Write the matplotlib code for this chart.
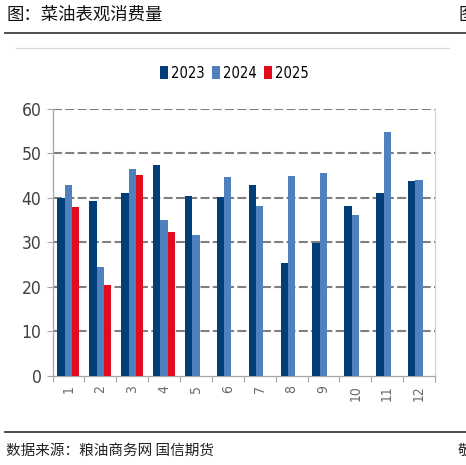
import matplotlib
matplotlib.use("Agg")
import matplotlib.pyplot as plt
from matplotlib.lines import Line2D
from matplotlib.patches import Patch
import numpy as np

months = ["1", "2", "3", "4", "5", "6", "7", "8", "9", "10", "11", "12"]
v2023 = [39.9, 39.2, 41.0, 47.4, 40.5, 40.3, 43.0, 25.3, 29.9, 38.2, 41.0, 43.7]
v2024 = [43.0, 24.4, 46.5, 35.1, 31.6, 44.8, 38.2, 45.0, 45.5, 36.2, 54.8, 44.1]
v2025 = [37.9, 20.5, 45.1, 32.3]
series_names = ["2023", "2024", "2025"]
yticks = [0, 10, 20, 30, 40, 50, 60]

c23, c24, c25 = "#003F7A", "#4F81BD", "#E00B1C"
cjk = ["Noto Sans CJK SC", "DejaVu Sans"]
narrow = ["DejaVu Sans"]

W, H = 466, 465
fig = plt.figure(figsize=(W / 100, H / 100), dpi=100)

def fx(px): return px / W
def fy(py): return 1 - py / H

ax = fig.add_axes([fx(52.5), fy(375.7), fx(435) - fx(52.5), fy(109) - fy(375.7)])
x = np.arange(len(months))
bw = 0.23
ax.bar(x - bw, v2023, bw, color=c23, zorder=3)
ax.bar(x, v2024, bw, color=c24, zorder=3)
ax.bar(np.arange(len(v2025)) + bw, v2025, bw, color=c25, zorder=3)

ax.set_xlim(-0.5, len(months) - 0.5)
ax.set_ylim(0, 60)
ax.set_yticks(yticks)
ax.set_yticklabels([str(t) for t in yticks], family=narrow, stretch="condensed",
                   fontsize=12.5, color="#404040")
for t in yticks[1:]:
    ax.axhline(t, color="#7F7F7F", lw=1.5, dashes=(4.3, 1.6), zorder=1)

ax.set_xticks(x)
ax.set_xticklabels(months, rotation=90, fontsize=10, color="#6A6A6A", family=narrow,
                   stretch="condensed")
ax.set_xticks(np.arange(-0.5, len(months), 1), minor=True)
ax.tick_params(axis="x", which="major", length=0, pad=7)
ax.tick_params(axis="x", which="minor", length=4, color="#A6A6A6", width=0.8)
ax.tick_params(axis="y", length=4, color="#A6A6A6", width=0.8, pad=4)

for s in ["left", "bottom"]:
    ax.spines[s].set_color("#A6A6A6")
    ax.spines[s].set_linewidth(0.9)
ax.spines["right"].set_color("#D0D0D0")
ax.spines["right"].set_linewidth(0.8)
ax.spines["top"].set_visible(False)

handles = [Patch(facecolor=c, edgecolor="none") for c in (c23, c24, c25)]
fig.legend(handles, series_names, loc="center", bbox_to_anchor=(fx(234), fy(73)),
           ncol=3, frameon=False,
           prop={"family": narrow, "size": 10.5, "stretch": "condensed"},
           handlelength=0.55, handleheight=1.0, handletextpad=0.2, columnspacing=0.5)

# decorations
fig.add_artist(Line2D([fx(5), fx(466)], [fy(33.5), fy(33.5)], color="#404040", lw=1.3))
fig.add_artist(Line2D([fx(16), fx(449)], [fy(48), fy(48)], color="#D9D9D9", lw=0.9))
fig.add_artist(Line2D([fx(5), fx(466)], [fy(431.7), fy(431.7)], color="#404040", lw=1.3))

fig.text(fx(7), fy(15), "图：菜油表观消费量", family=cjk, fontsize=12.5, va="center",
         ha="left", color="#111111")
fig.text(fx(6), fy(451), "数据来源：粮油商务网 国信期货", family=cjk, fontsize=10.5,
         va="center", ha="left", color="#222222")
fig.text(fx(459), fy(15), "图", family=cjk, fontsize=12.5, va="center", ha="left", color="#111111")
fig.text(fx(458), fy(451), "敬", family=cjk, fontsize=10.5, va="center", ha="left", color="#222222")

fig.savefig("out.png", dpi=100)
